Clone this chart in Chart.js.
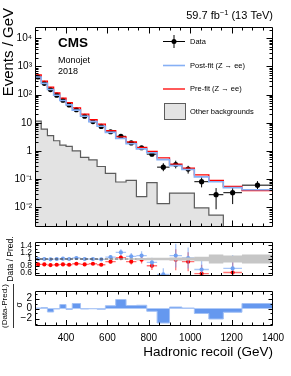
<!DOCTYPE html>
<html>
<head>
<meta charset="utf-8">
<script src="https://cdn.jsdelivr.net/npm/chart.js@4"></script>
<style>
  html, body { margin: 0; padding: 0; background: #fff; }
  body { width: 291px; height: 376px; position: relative; overflow: hidden; }
  canvas { position: absolute; left: 0; }
</style>
</head>
<body>
<canvas id="main" width="291" height="236" style="top:0"></canvas>
<canvas id="ratio" width="291" height="50" style="top:234px"></canvas>
<canvas id="pull" width="291" height="94" style="top:282px"></canvas>
<script>
// CMS monojet 2018, Z -> ee control region: yields, ratio and pulls.

const binEdges = [250, 280, 310, 340, 370, 400, 430, 470, 510, 550, 590, 640, 690, 740, 790, 840, 900, 960, 1020, 1090, 1160, 1250, 1400];

const dataVals  = [420, 250, 150, 95, 63, 43, 29, 17, 11, 7.4, 4.8, 3.3, 1.93, 1.30, 0.77, 0.266, 0.33, 0.227, 0.081, 0.028, 0.033, 0.061];
const dataErrUp = [8, 5, 3.5, 2.5, 1.8, 1.4, 1.0, 0.7, 0.5, 0.4, 0.25, 0.25, 0.18, 0.15, 0.12, 0.1, 0.12, 0.07, 0.04, 0.02, 0.017, 0.024];
const dataErrDn = [8, 5, 3.5, 2.5, 1.8, 1.4, 1.0, 0.7, 0.5, 0.4, 0.25, 0.25, 0.18, 0.15, 0.12, 0.075, 0.09, 0.07, 0.03, 0.0195, 0.02, 0.022];
const postFit   = [420, 250, 152, 95, 62, 43, 28, 17, 11, 7.5, 4.55, 2.76, 1.79, 1.18, 0.86, 0.49, 0.30, 0.22, 0.12, 0.081, 0.05, 0.042];
const preFit    = [500, 298, 183, 114, 75, 52, 33.7, 20.2, 12.8, 8.9, 5.2, 3.17, 2.1, 1.33, 0.96, 0.57, 0.34, 0.247, 0.142, 0.09, 0.055, 0.039];
const otherBkg  = [11.5, 5.9, 3.5, 2.3, 1.6, 1.45, 1.0, 0.59, 0.48, 0.28, 0.16, 0.079, 0.090, 0.024, 0.075, 0.0134, 0.032, 0.032, 0.0095, 0.0053, 0, 0];

const ratioPost    = [1.0, 1.0, 0.99, 1.0, 1.01, 1.0, 1.03, 1.0, 1.0, 0.99, 1.055, 1.195, 1.08, 1.10, 0.90, 0.545, 1.10, 1.03, 0.69, 0.35, 0.72, 1.6];
const ratioPostErr = [0.01, 0.01, 0.012, 0.015, 0.018, 0.02, 0.022, 0.025, 0.03, 0.035, 0.055, 0.09, 0.1, 0.13, 0.14, 0.18, 0.35, 0.31, 0.31, 0.1, 0.4, 0.05];
const ratioPre     = [0.84, 0.84, 0.82, 0.83, 0.84, 0.83, 0.86, 0.84, 0.86, 0.83, 0.92, 1.04, 0.92, 0.98, 0.80, 0.45, 0.98, 0.92, 0.57, 0.31, 0.60, 1.6];
const ratioPreErr  = [0.01, 0.01, 0.01, 0.012, 0.015, 0.017, 0.019, 0.022, 0.026, 0.03, 0.048, 0.08, 0.085, 0.11, 0.125, 0.04, 0.31, 0.28, 0.26, 0.1, 0.33, 0.05];
const bandHalf     = [0.006, 0.006, 0.006, 0.007, 0.007, 0.008, 0.008, 0.009, 0.01, 0.01, 0.012, 0.014, 0.02, 0.03, 0.04, 0.04, 0.045, 0.045, 0.07, 0.13, 0.1, 0.13];

const pullVals = [0.1, 0.2, -0.7, -0.1, 0.8, -0.2, 1.0, -0.1, -0.05, -0.15, 0.55, 1.8, 0.6, 0.65, -0.55, -2.9, 0.3, 0.1, -1.0, -2.1, -0.75, 1.0];

const xTicks = [400, 600, 800, 1000, 1200, 1400];
const xLabels = ["400", "600", "800", "1000", "1200", "1400"];
const yMainTicks = [1e-2, 1e-1, 1, 10, 1e2, 1e3, 1e4];
const yMainLabels = ["10\u207B\u00B2", "10\u207B\u00B9", "1", "10", "10\u00B2", "10\u00B3", "10\u2074"];
const yRatioTicks = [0.6, 0.8, 1, 1.2, 1.4];
const yRatioLabels = ["0.6", "0.8", "1", "1.2", "1.4"];
const yPullTicks = [-2, 0, 2];
const yPullLabels = ["\u22122", "0", "2"];

const FONT = '"Liberation Sans", Arial, Helvetica, sans-serif';
const BLUE_LINE = "#86b0f5";
const BLUE_FILL = "#6598ef";
const GREY_FILL = "#e3e3e3";
const GREY_LINE = "#5c5c5c";
Chart.defaults.font.family = FONT;
Chart.defaults.color = "#000";

// --- helpers -----------------------------------------------------------------
const steps = (vals, floor) => binEdges.map((e, i) => {
  const v = vals[Math.min(i, vals.length - 1)];
  return { x: e, y: floor !== undefined && v <= 0 ? floor : v };
});
const centers = (vals) => vals.map((v, i) => ({ x: (binEdges[i] + binEdges[i + 1]) / 2, y: v }));
const range = (a, b, s) => { const r = []; for (let v = a; v <= b + 1e-9; v += s) r.push(+v.toFixed(4)); return r; };

const logMinor = [];
for (let d = -3; d <= 4; d++) for (let m = 2; m <= 9; m++) logMinor.push(m * Math.pow(10, d));

function fixedY(width) { return (s) => { s.width = width; }; }

function yAxis(extra, ticksVals, labels, size) {
  return Object.assign({
    grid: { display: false, drawTicks: false }, border: { display: false },
    afterBuildTicks: (s) => { s.ticks = ticksVals.map((v) => ({ value: v })); },
    afterFit: fixedY(35),
    ticks: { autoSkip: false, padding: 3, font: { size }, color: "#000",
      callback: (v) => labels[ticksVals.findIndex((t) => Math.abs(t - v) < 1e-9 * Math.max(1, Math.abs(t)))] },
  }, extra);
}

// error bars under points: horizontal = bin width, vertical = err
const errBars = {
  id: "errBars",
  beforeDatasetDraw(chart, args) {
    const ds = chart.data.datasets[args.index];
    if (!ds.err) return;
    const { ctx, chartArea: a, scales: { x, y } } = chart;
    const lo = y.options.type === "logarithmic" ? 1e-6 : -1e9;
    ctx.save();
    ctx.beginPath(); ctx.rect(a.left, a.top, a.width, a.height); ctx.clip();
    ctx.strokeStyle = ds.err.color; ctx.lineWidth = ds.err.width;
    ds.data.forEach((p, i) => {
      const px = x.getPixelForValue(p.x), py = y.getPixelForValue(p.y);
      ctx.beginPath();
      ctx.moveTo(x.getPixelForValue(binEdges[i]), py);
      ctx.lineTo(x.getPixelForValue(binEdges[i + 1]), py);
      ctx.moveTo(px, y.getPixelForValue(p.y + ds.err.up[i]));
      ctx.lineTo(px, y.getPixelForValue(Math.max(p.y - ds.err.dn[i], lo)));
      ctx.stroke();
    });
    ctx.restore();
  },
};

// ROOT-like frame with inward ticks on all four sides
function frameTicks(cfg) {
  return {
    id: "frameTicks",
    afterDraw(chart) {
      const { ctx, chartArea: a, scales: { x, y } } = chart;
      const L = Math.round(a.left) + 0.5, R = Math.round(a.right) - 0.5;
      const T = Math.round(a.top) + 0.5, B = Math.round(a.bottom) - 0.5;
      ctx.save();
      ctx.strokeStyle = "#000"; ctx.lineWidth = 1;
      ctx.beginPath();
      const xt = (vals, len) => vals.forEach((v) => {
        if (v <= x.min || v >= x.max) return;
        const p = Math.round(x.getPixelForValue(v)) + 0.5;
        ctx.moveTo(p, B); ctx.lineTo(p, B - len); ctx.moveTo(p, T); ctx.lineTo(p, T + len);
      });
      const yt = (vals, len) => vals.forEach((v) => {
        if (v <= y.min || v >= y.max) return;
        const p = Math.round(y.getPixelForValue(v)) + 0.5;
        ctx.moveTo(L, p); ctx.lineTo(L + len, p); ctx.moveTo(R, p); ctx.lineTo(R - len, p);
      });
      xt(range(250, 1400, 50), cfg.xMin); xt(xTicks, cfg.xMaj);
      yt(cfg.yMinor, cfg.yMin); yt(cfg.yMajor, cfg.yMaj);
      ctx.rect(L, T, R - L, B - T);
      ctx.stroke();
      ctx.restore();
    },
  };
}

function text(ctx, s, x, y, size, opts = {}) {
  ctx.save();
  ctx.font = `${opts.bold ? "bold " : ""}${size}px ${FONT}`;
  ctx.fillStyle = opts.color || "#000";
  ctx.textAlign = opts.align || "left";
  ctx.textBaseline = opts.baseline || "middle";
  ctx.translate(x, y);
  if (opts.rot) ctx.rotate(opts.rot);
  ctx.fillText(s, 0, 0);
  ctx.restore();
}

const mainDecor = {
  id: "mainDecor",
  afterDraw(chart) {
    const ctx = chart.ctx;
    text(ctx, "Events / GeV", 9, 8, 15, { align: "right", rot: -Math.PI / 2 });
    text(ctx, "CMS", 58, 43, 13.5, { bold: true });
    text(ctx, "Monojet", 58, 61, 9);
    text(ctx, "2018", 58, 72, 9);

    // luminosity label with superscript
    ctx.save();
    ctx.fillStyle = "#000"; ctx.textBaseline = "alphabetic";
    ctx.font = `11px ${FONT}`;
    const a = "59.7 fb", c = " (13 TeV)";
    const wa = ctx.measureText(a).width, wc = ctx.measureText(c).width;
    ctx.font = `7.5px ${FONT}`;
    const b = "\u22121", wb = ctx.measureText(b).width;
    let x0 = 273 - (wa + wb + wc);
    ctx.font = `11px ${FONT}`; ctx.fillText(a, x0, 19);
    ctx.font = `7.5px ${FONT}`; ctx.fillText(b, x0 + wa, 14.5);
    ctx.font = `11px ${FONT}`; ctx.fillText(c, x0 + wa + wb, 19);
    ctx.restore();

    // legend
    ctx.save();
    ctx.lineWidth = 1; ctx.strokeStyle = "#000";
    ctx.beginPath();
    ctx.moveTo(163, 41.5); ctx.lineTo(185, 41.5);
    ctx.moveTo(174, 35); ctx.lineTo(174, 48);
    ctx.stroke();
    ctx.beginPath(); ctx.arc(174, 41.5, 2.5, 0, Math.PI * 2); ctx.fillStyle = "#000"; ctx.fill();
    ctx.lineWidth = 1.6; ctx.strokeStyle = BLUE_LINE;
    ctx.beginPath(); ctx.moveTo(163, 65.5); ctx.lineTo(185, 65.5); ctx.stroke();
    ctx.lineWidth = 1.3; ctx.strokeStyle = "#ff0000";
    ctx.beginPath(); ctx.moveTo(163, 89); ctx.lineTo(185, 89); ctx.stroke();
    ctx.fillStyle = GREY_FILL; ctx.fillRect(164, 103, 22, 17);
    ctx.lineWidth = 1; ctx.strokeStyle = GREY_LINE; ctx.strokeRect(164.5, 103.5, 21, 16);
    ctx.restore();
    text(ctx, "Data", 190, 42, 7.5);
    text(ctx, "Post-fit (Z \u2192 ee)", 190, 66, 7.5);
    text(ctx, "Pre-fit (Z \u2192 ee)", 190, 89, 7.5);
    text(ctx, "Other backgrounds", 190, 112, 7.5);
  },
};

const ratioDecor = {
  id: "ratioDecor",
  afterDraw(chart) {
    text(chart.ctx, "Data / Pred.", 11, 25, 8.5, { align: "center", rot: -Math.PI / 2 });
  },
};

const pullDecor = {
  id: "pullDecor",
  afterDraw(chart) {
    const ctx = chart.ctx;
    text(ctx, "(Data-Pred.)", 5, 24, 8, { align: "center", rot: -Math.PI / 2 });
    ctx.save();
    ctx.strokeStyle = "#000"; ctx.lineWidth = 0.8;
    ctx.beginPath(); ctx.moveTo(13.5, 2); ctx.lineTo(13.5, 46); ctx.stroke();
    ctx.restore();
    text(ctx, "\u03C3", 20, 23, 8.5, { align: "center", rot: -Math.PI / 2 });
    text(ctx, "Hadronic recoil (GeV)", 273, 70, 13.5, { align: "right" });
  },
};

const common = {
  responsive: false, animation: false, events: [],
  plugins: { legend: { display: false }, tooltip: { enabled: false } },
};

// --- main panel ----------------------------------------------------------------
new Chart(document.getElementById("main"), {
  type: "line",
  data: { datasets: [
    { data: steps(otherBkg, 1e-6), stepped: true, borderColor: GREY_LINE, borderWidth: 1.2,
      backgroundColor: GREY_FILL, fill: "start", pointRadius: 0 },
    { data: steps(postFit), stepped: true, borderColor: BLUE_LINE, borderWidth: 1.6, fill: false, pointRadius: 0 },
    { data: steps(preFit), stepped: true, borderColor: "#ff0000", borderWidth: 1.3, fill: false, pointRadius: 0 },
    { data: centers(dataVals), showLine: false, pointRadius: 2.6, pointBackgroundColor: "#000", pointBorderWidth: 0,
      err: { up: dataErrUp, dn: dataErrDn, color: "#000", width: 1 } },
  ] },
  options: Object.assign({}, common, {
    layout: { padding: { top: 27, bottom: 3, left: 0, right: 18 } },
    scales: {
      x: { type: "linear", min: 250, max: 1400, display: false },
      y: yAxis({ type: "logarithmic", min: 0.002, max: 25000 }, yMainTicks, yMainLabels, 10),
    },
  }),
  plugins: [errBars, frameTicks({ xMaj: 6, xMin: 3, yMajor: yMainTicks, yMinor: logMinor, yMaj: 6, yMin: 3 }), mainDecor],
});

// --- ratio panel ---------------------------------------------------------------
new Chart(document.getElementById("ratio"), {
  type: "line",
  data: { datasets: [
    { data: steps(bandHalf.map((h) => 1 + h)), stepped: true, borderWidth: 0, pointRadius: 0, fill: false },
    { data: steps(bandHalf.map((h) => 1 - h)), stepped: true, borderWidth: 0, pointRadius: 0,
      fill: "-1", backgroundColor: "#c6c6c6" },
    { data: [{ x: 250, y: 1 }, { x: 1400, y: 1 }], borderColor: "#000", borderWidth: 1.2, borderDash: [3, 2], pointRadius: 0 },
    { data: centers(ratioPost), showLine: false, pointRadius: 2.1, pointBackgroundColor: "#6e9ff2", pointBorderWidth: 0,
      err: { up: ratioPostErr, dn: ratioPostErr, color: "rgba(110,159,242,0.6)", width: 1.3 } },
    { data: centers(ratioPre), showLine: false, pointRadius: 2.1, pointBackgroundColor: "#ff0000", pointBorderWidth: 0,
      err: { up: ratioPreErr, dn: ratioPreErr, color: "rgba(255,0,0,0.55)", width: 1.3 } },
  ] },
  options: Object.assign({}, common, {
    layout: { padding: { top: 4, bottom: 3, left: 0, right: 18 } },
    scales: {
      x: { type: "linear", min: 250, max: 1400, display: false },
      y: yAxis({ type: "linear", min: 0.5, max: 1.5 }, yRatioTicks, yRatioLabels, 8.5),
    },
  }),
  plugins: [errBars, frameTicks({ xMaj: 4.5, xMin: 2.5, yMajor: yRatioTicks, yMinor: range(0.5, 1.5, 0.1), yMaj: 4, yMin: 2 }), ratioDecor],
});

// --- pull panel ----------------------------------------------------------------
new Chart(document.getElementById("pull"), {
  type: "line",
  data: { datasets: [
    { data: steps(pullVals), stepped: true, borderColor: "#a3c1f5", borderWidth: 1,
      backgroundColor: BLUE_FILL, fill: { value: 0 }, pointRadius: 0 },
  ] },
  options: Object.assign({}, common, {
    layout: { padding: { top: 2, bottom: 0, left: 0, right: 18 } },
    scales: {
      x: { type: "linear", min: 250, max: 1400,
        grid: { display: false, drawTicks: false }, border: { display: false },
        afterBuildTicks: (s) => { s.ticks = xTicks.map((v) => ({ value: v })); },
        afterFit: (s) => { s.height = 50; },
        ticks: { autoSkip: false, maxRotation: 0, padding: 6, font: { size: 10 }, color: "#000",
          callback: (v) => xLabels[xTicks.indexOf(v)] } },
      y: yAxis({ type: "linear", min: -3.5, max: 3.5 }, yPullTicks, yPullLabels, 10),
    },
  }),
  plugins: [frameTicks({ xMaj: 5.5, xMin: 3, yMajor: yPullTicks, yMinor: [-3, -1, 1, 3], yMaj: 4, yMin: 2 }), pullDecor],
});
</script>
</body>
</html>
